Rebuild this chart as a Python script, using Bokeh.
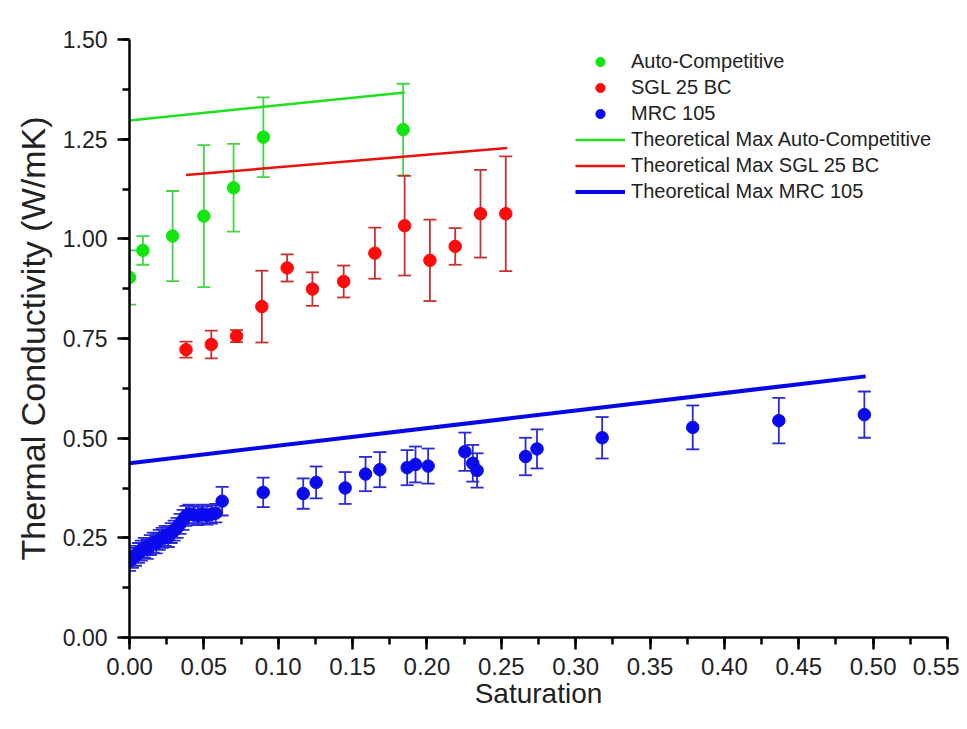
from bokeh.plotting import figure
from bokeh.models import (ColumnDataSource, Whisker, TeeHead, Legend, LegendItem,
                          SingleIntervalTicker, NumeralTickFormatter, Range1d)
from bokeh.embed import file_html
from bokeh.resources import INLINE

# ---------------- data ----------------
green_x = [0.000, 0.009, 0.029, 0.050, 0.070, 0.090, 0.184]
green_y = [0.903, 0.971, 1.007, 1.057, 1.128, 1.255, 1.274]
green_err = [0.068, 0.036, 0.113, 0.178, 0.110, 0.100, 0.115]

red_x = [0.038, 0.055, 0.072, 0.089, 0.106, 0.123, 0.144, 0.165, 0.185, 0.202, 0.219, 0.236, 0.253]
red_y = [0.722, 0.735, 0.756, 0.830, 0.927, 0.874, 0.893, 0.964, 1.033, 0.946, 0.981, 1.063, 1.063]
red_err = [0.020, 0.035, 0.015, 0.090, 0.034, 0.042, 0.040, 0.064, 0.125, 0.102, 0.046, 0.110, 0.144]

blue_x = [0.000, 0.002, 0.004, 0.006, 0.008, 0.010, 0.012, 0.014, 0.016, 0.018,
          0.020, 0.022, 0.024, 0.026, 0.028, 0.030, 0.032, 0.034, 0.036, 0.038,
          0.040, 0.043, 0.046, 0.049, 0.052, 0.055, 0.058,
          0.0623, 0.0899, 0.1168, 0.1255, 0.145, 0.1587, 0.1683, 0.1867, 0.1923,
          0.2008, 0.2255, 0.2308, 0.2337, 0.2663, 0.274, 0.3178, 0.3787, 0.4366, 0.4941]
blue_y = [0.192, 0.200, 0.205, 0.212, 0.218, 0.225, 0.222, 0.232, 0.238, 0.236,
          0.245, 0.250, 0.255, 0.252, 0.262, 0.268, 0.275, 0.285, 0.295, 0.305,
          0.310, 0.308, 0.305, 0.310, 0.306, 0.309, 0.312,
          0.342, 0.364, 0.361, 0.389, 0.375, 0.410, 0.421, 0.426, 0.434,
          0.430, 0.466, 0.437, 0.419, 0.454, 0.473, 0.501, 0.527, 0.544, 0.559]
blue_err = [0.025, 0.025, 0.025, 0.025, 0.025, 0.025, 0.025, 0.025, 0.025, 0.025,
            0.025, 0.025, 0.025, 0.025, 0.025, 0.025, 0.025, 0.025, 0.025, 0.025,
            0.023, 0.023, 0.023, 0.023, 0.023, 0.023, 0.023,
            0.036, 0.037, 0.038, 0.040, 0.040, 0.043, 0.044, 0.044, 0.045,
            0.044, 0.048, 0.046, 0.043, 0.047, 0.049, 0.052, 0.055, 0.057, 0.058]

theo_green_x = [0.000, 0.185]
theo_green_y = [1.297, 1.367]
theo_red_x = [0.038, 0.254]
theo_red_y = [1.160, 1.228]
theo_blue_x = [0.000, 0.495]
theo_blue_y = [0.437, 0.655]

x_ticks_interval = 0.05
y_ticks_interval = 0.25

FONT = "Liberation Sans"

p = figure(width=959, height=721, output_backend="svg", toolbar_location=None,
           x_range=Range1d(0, 0.55), y_range=Range1d(0, 1.5),
           min_border_left=129, min_border_right=12, min_border_top=39, min_border_bottom=84)
p.outline_line_color = None
p.xgrid.visible = False
p.ygrid.visible = False
p.background_fill_color = "white"


def add_series(xs, ys, errs, marker_color, bar_color):
    src = ColumnDataSource(dict(x=xs, y=ys,
                                lower=[a - b for a, b in zip(ys, errs)],
                                upper=[a + b for a, b in zip(ys, errs)]))
    w = Whisker(source=src, base="x", upper="upper", lower="lower", dimension="height",
                line_color=bar_color, line_width=1.8,
                upper_head=TeeHead(size=13, line_color=bar_color, line_width=1.8),
                lower_head=TeeHead(size=13, line_color=bar_color, line_width=1.8))
    p.add_layout(w)
    r = p.scatter("x", "y", source=src, size=12.5, marker="circle",
                  fill_color=marker_color, line_color=marker_color)
    return r


rg = add_series(green_x, green_y, green_err, "#11e611", "#44d444")
rr = add_series(red_x, red_y, red_err, "#ff0a0a", "#c83030")
rb = add_series(blue_x, blue_y, blue_err, "#0a0aee", "#2a2ad8")

lg = p.line(theo_green_x, theo_green_y, line_color="#1ee01e", line_width=2.5)
lr = p.line(theo_red_x, theo_red_y, line_color="#e81010", line_width=2.5)
lb = p.line(theo_blue_x, theo_blue_y, line_color="#0606e6", line_width=4)

legend = Legend(items=[
    LegendItem(label="Auto-Competitive", renderers=[rg]),
    LegendItem(label="SGL 25 BC", renderers=[rr]),
    LegendItem(label="MRC 105", renderers=[rb]),
    LegendItem(label="Theoretical Max Auto-Competitive", renderers=[lg]),
    LegendItem(label="Theoretical Max SGL 25 BC", renderers=[lr]),
    LegendItem(label="Theoretical Max MRC 105", renderers=[lb]),
], location=(446, 434))
legend.border_line_color = None
legend.background_fill_alpha = 0
legend.padding = 0
legend.margin = 0
legend.spacing = 3
legend.glyph_width = 50
legend.glyph_height = 23
legend.label_height = 23
legend.label_standoff = 6
legend.label_text_font = FONT
legend.label_text_font_size = "20px"
legend.label_text_color = "#222222"
p.add_layout(legend)

for ax, interval in ((p.xaxis[0], x_ticks_interval), (p.yaxis[0], y_ticks_interval)):
    ax.ticker = SingleIntervalTicker(interval=interval, num_minor_ticks=2)
    ax.formatter = NumeralTickFormatter(format="0.00")
    ax.axis_line_color = "black"
    ax.axis_line_width = 2.5
    ax.major_tick_line_color = "black"
    ax.major_tick_line_width = 2.5
    ax.minor_tick_line_color = "black"
    ax.minor_tick_line_width = 2.5
    ax.major_tick_in = 0
    ax.major_tick_out = 12
    ax.minor_tick_in = 0
    ax.minor_tick_out = 7
    ax.major_label_text_font = FONT
    ax.major_label_text_color = "#222222"
    ax.axis_label_text_font = FONT
    ax.axis_label_text_font_style = "normal"
    ax.axis_label_text_color = "#222222"

p.xaxis.major_label_text_font_size = "24px"
p.yaxis.major_label_text_font_size = "23px"
p.xaxis.axis_label = "Saturation"
p.yaxis.axis_label = "Thermal Conductivity (W/mK)"
p.xaxis.axis_label_text_font_size = "28px"
p.yaxis.axis_label_text_font_size = "34px"
p.xaxis.major_label_standoff = 8
p.yaxis.major_label_standoff = 10
p.xaxis.axis_label_standoff = 0
p.yaxis.axis_label_standoff = 8

open("out.html", "w").write(file_html(p, INLINE))
